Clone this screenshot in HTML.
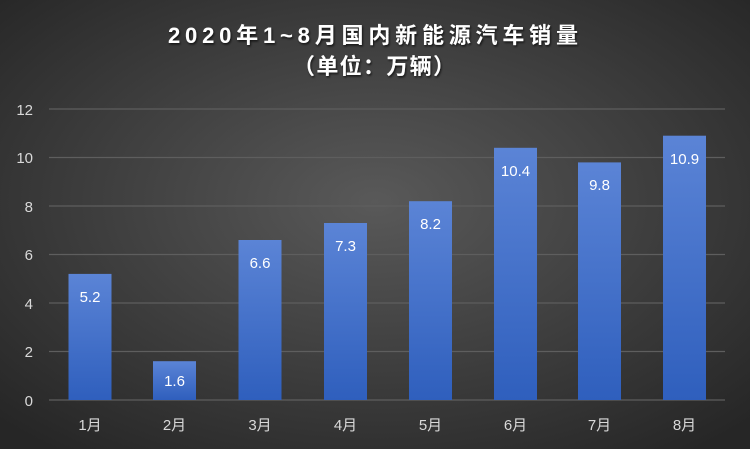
<!DOCTYPE html>
<html><head><meta charset="utf-8"><style>
body{margin:0;}
svg{display:block;font-family:"Liberation Sans","Noto Sans CJK SC",sans-serif;}
</style></head><body>
<svg width="750" height="449" viewBox="0 0 750 449" xmlns="http://www.w3.org/2000/svg">
<defs>
<radialGradient id="bg" cx="50%" cy="45%" r="70%">
<stop offset="0" stop-color="#595959"/>
<stop offset="1" stop-color="#262626"/>
</radialGradient>
<linearGradient id="bar" x1="0" y1="0" x2="0" y2="1">
<stop offset="0" stop-color="#5b84d6"/>
<stop offset="1" stop-color="#2f5fbd"/>
</linearGradient>
<filter id="sh" x="-10%" y="-30%" width="120%" height="160%">
<feDropShadow dx="1" dy="1.5" stdDeviation="1" flood-color="#000" flood-opacity="0.7"/>
</filter>
</defs>
<rect width="750" height="449" fill="url(#bg)"/>
<g filter="url(#sh)" fill="#fff" font-size="22" font-weight="bold">
<text x="168" y="43" textLength="410" lengthAdjust="spacing">2020年1~8月国内新能源汽车销量</text>
<text x="293" y="74" textLength="162" lengthAdjust="spacing">（单位：万辆）</text>
</g>
<g stroke="#5e5e5e" stroke-width="1.3">
<line x1="49" x2="725" y1="109" y2="109"/><line x1="49" x2="725" y1="157.5" y2="157.5"/>
<line x1="49" x2="725" y1="206" y2="206"/><line x1="49" x2="725" y1="254.5" y2="254.5"/>
<line x1="49" x2="725" y1="303" y2="303"/><line x1="49" x2="725" y1="351.5" y2="351.5"/>
<line x1="49" x2="725" y1="400" y2="400"/>
</g>
<g fill="#d9d9d9" font-size="15" text-anchor="end">
<text x="33" y="115">12</text><text x="33" y="163">10</text><text x="33" y="212">8</text>
<text x="33" y="260">6</text><text x="33" y="309">4</text><text x="33" y="357">2</text><text x="33" y="406">0</text>
</g>
<g fill="url(#bar)">
<rect x="68.5" y="273.9" width="43" height="126.1"/>
<rect x="153" y="361.2" width="43" height="38.8"/>
<rect x="238.5" y="240" width="43" height="160"/>
<rect x="324" y="223" width="43" height="177"/>
<rect x="409" y="201.2" width="43" height="198.8"/>
<rect x="494" y="147.8" width="43" height="252.2"/>
<rect x="578" y="162.4" width="43" height="237.6"/>
<rect x="663" y="135.7" width="43" height="264.3"/>
</g>
<g fill="#fff" font-size="15" text-anchor="middle">
<text x="90" y="302">5.2</text><text x="174.5" y="386">1.6</text>
<text x="260" y="268">6.6</text><text x="345.5" y="251">7.3</text>
<text x="430.5" y="229">8.2</text><text x="515.5" y="176">10.4</text>
<text x="599.5" y="190">9.8</text><text x="684.5" y="164">10.9</text>
</g>
<g fill="#d9d9d9" font-size="15" text-anchor="middle">
<text x="90" y="430">1月</text><text x="174.5" y="430">2月</text><text x="260" y="430">3月</text>
<text x="345.5" y="430">4月</text><text x="430.5" y="430">5月</text><text x="515.5" y="430">6月</text>
<text x="599.5" y="430">7月</text><text x="684.5" y="430">8月</text>
</g>
</svg>
</body></html>
